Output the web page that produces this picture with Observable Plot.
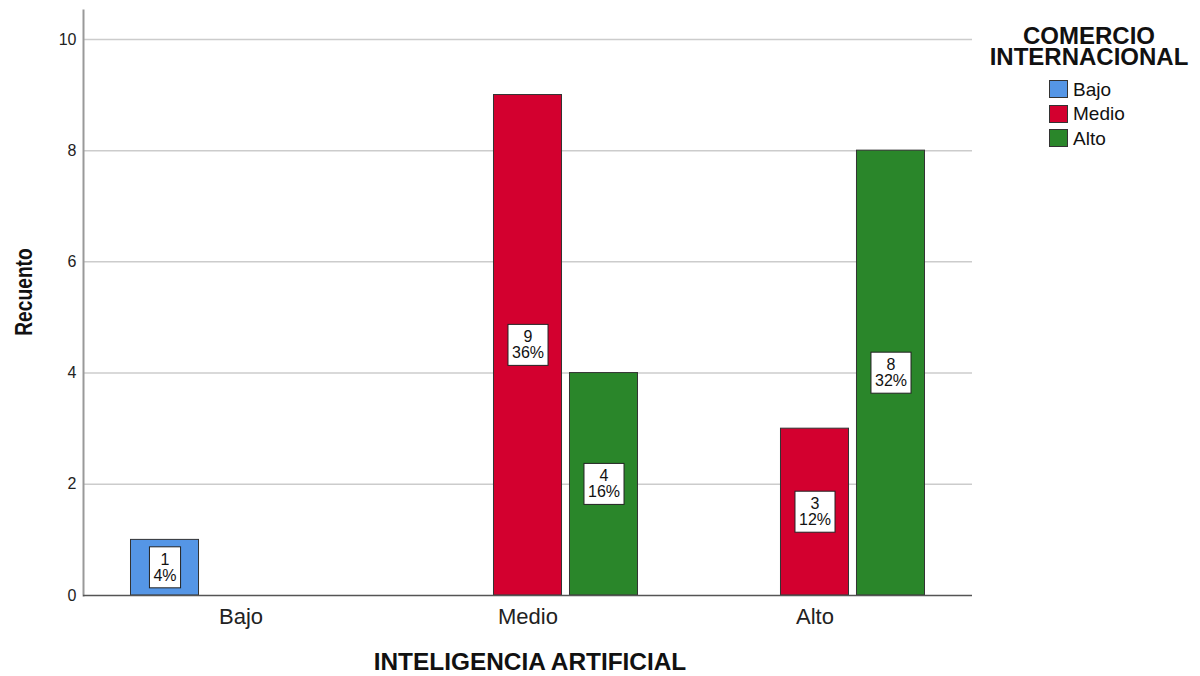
<!DOCTYPE html>
<html><head><meta charset="utf-8">
<script src="https://cdn.jsdelivr.net/npm/d3@7"></script>
<script src="https://cdn.jsdelivr.net/npm/@observablehq/plot@0.6"></script>
<style>
html,body{margin:0;padding:0;background:#fff}
#wrap{position:relative;width:1200px;height:676px;font-family:"Liberation Sans",Arial,sans-serif;color:#111;overflow:hidden}
.layer{position:absolute;left:0;top:0}
.ytitle{position:absolute;left:24px;top:292px;font-weight:bold;font-size:24px;line-height:24px;white-space:nowrap;transform:translate(-50%,-50%) rotate(-90deg) scaleX(0.8)}
.xtitle{position:absolute;left:530px;top:650px;font-weight:bold;font-size:24.4px;line-height:24px;white-space:nowrap;transform:translateX(-50%)}
.legtitle{position:absolute;left:1089px;top:24.5px;font-weight:bold;font-size:24px;line-height:21px;text-align:center;white-space:nowrap;transform:translateX(-50%)}
.legend{position:absolute;left:1049px;top:77px}
.row{display:flex;align-items:center;height:24.5px}
.sw{width:19px;height:18px;box-sizing:border-box;border:1px solid #333;margin-right:5px}
.lab{font-size:19px;line-height:19px}
</style></head><body>
<div id="wrap">
  <div id="back" class="layer"></div>
  <div id="front" class="layer"></div>
  <div class="ytitle">Recuento</div>
  <div class="xtitle">INTELIGENCIA ARTIFICIAL</div>
  <div class="legtitle">COMERCIO<br>INTERNACIONAL</div>
  <div class="legend" id="legend"></div>
</div>
<script>
// Categories of the x-axis variable (INTELIGENCIA ARTIFICIAL)
const groups = ["Bajo", "Medio", "Alto"];
// Categories of the cluster variable (COMERCIO INTERNACIONAL)
const series = ["Bajo", "Medio", "Alto"];
const seriesColors = ["#5596e6", "#d3002f", "#2a862a"];
// Observed bars
const barGroup = ["Bajo", "Medio", "Medio", "Alto", "Alto"];
const barSeries = ["Bajo", "Medio", "Alto", "Medio", "Alto"];
const barCount = [1, 9, 4, 3, 8];
const barPercent = ["4%", "36%", "16%", "12%", "32%"];
const yTicks = [0, 2, 4, 6, 8, 10];
const yMax = 10.52;

const data = barCount.map((n, i) => ({g: barGroup[i], s: barSeries[i], n, p: barPercent[i]}));

const common = {
  width: 1200,
  height: 676,
  marginLeft: 83,
  marginRight: 228,
  marginTop: 10,
  marginBottom: 81,
  style: {fontFamily: '"Liberation Sans", Arial, sans-serif', color: "#222", background: "transparent", overflow: "visible"},
  y: {domain: [0, yMax], label: null}
};

// Background layer: full-width grid, y axis, axis lines
const back = Plot.plot({
  ...common,
  x: {axis: null},
  marks: [
    Plot.ruleY(yTicks.filter(t => t > 0), {stroke: "#cccccc", strokeWidth: 1.5}),
    Plot.axisY({ticks: yTicks, tickSize: 0, tickPadding: 7, fontSize: 16, label: null}),
    Plot.frame({anchor: "left", stroke: "#999", strokeWidth: 2})
  ]
});
document.getElementById("back").append(back);

// Foreground layer: clustered bars faceted by group
const front = Plot.plot({
  ...common,
  fx: {domain: groups, paddingInner: 0.2334, paddingOuter: 0.1655, round: false, label: null},
  x: {domain: series, paddingInner: 0.105, paddingOuter: 0, round: false, axis: null},
  y: {domain: [0, yMax], label: null, axis: null},
  color: {domain: series, range: seriesColors},
  marks: [
    Plot.axisFx({anchor: "bottom", tickSize: 0, tickPadding: 13, fontSize: 22, label: null}),
    Plot.barY(data, {fx: "g", x: "s", y: "n", fill: "s", stroke: "#333", strokeWidth: 1}),
    Plot.text(data, {fx: "g", x: "s", y: d => d.n / 2, text: d => d.n + "\n" + d.p, lineAnchor: "middle", lineHeight: 1, fontSize: 16, fill: "#111"})
  ]
});
document.getElementById("front").append(front);

// Baseline across the full width (drawn above the bars)
const base = Plot.plot({
  ...common,
  marks: [Plot.ruleY([0], {stroke: "#555", strokeWidth: 1.5})],
  y: {domain: [0, yMax], axis: null}
});
const baseDiv = document.createElement("div");
baseDiv.className = "layer";
baseDiv.append(base);
document.getElementById("wrap").insertBefore(baseDiv, document.querySelector(".ytitle"));

// white boxes behind the data labels, sized from the rendered text
front.querySelectorAll('g[aria-label="text"] text').forEach(t => {
  const b = t.getBBox();
  const r = document.createElementNS("http://www.w3.org/2000/svg", "rect");
  r.setAttribute("x", b.x - 4);
  r.setAttribute("y", b.y - 4);
  r.setAttribute("width", b.width + 8);
  r.setAttribute("height", b.height + 8);
  r.setAttribute("fill", "#fff");
  r.setAttribute("stroke", "#222");
  r.setAttribute("stroke-width", "1");
  if (t.getAttribute("transform")) r.setAttribute("transform", t.getAttribute("transform"));
  t.parentNode.insertBefore(r, t);
});

const leg = document.getElementById("legend");
series.forEach((s, i) => {
  const row = document.createElement("div");
  row.className = "row";
  row.innerHTML = `<div class="sw" style="background:${seriesColors[i]}"></div><div class="lab">${s}</div>`;
  leg.append(row);
});
</script>
</body></html>
